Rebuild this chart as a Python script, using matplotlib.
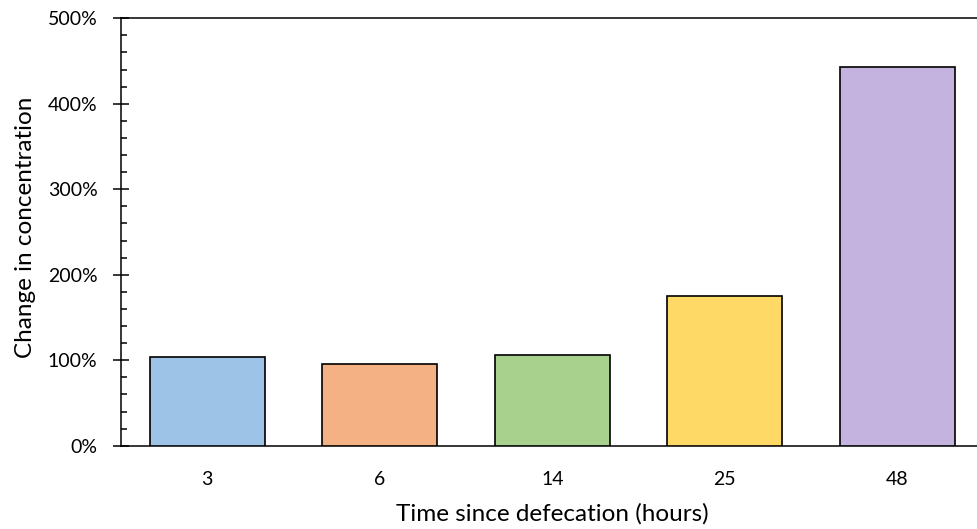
import matplotlib
matplotlib.use("Agg")
import matplotlib.pyplot as plt
from matplotlib.ticker import MultipleLocator, PercentFormatter

categories = ["3", "6", "14", "25", "48"]
values = [104, 96, 106, 175, 443]
colors = ["#9DC3E6", "#F4B183", "#A9D18E", "#FFD966", "#C3B3DE"]
yticks = [0, 100, 200, 300, 400, 500]

plt.rcParams['font.family'] = ['Lato', 'DejaVu Sans']

W, H = 977, 529
fig = plt.figure(figsize=(W / 100, H / 100), dpi=100)
left, right = 121 / W, 983.5 / W
bottom, top = (H - 445.7) / H, (H - 18.3) / H
ax = fig.add_axes([left, bottom, right - left, top - bottom])

x = list(range(len(categories)))
ax.bar(x, values, width=0.667, color=colors, edgecolor="black", linewidth=1.2, zorder=3)

ax.set_xlim(-0.5, len(categories) - 0.5)
ax.set_ylim(0, 500)
ax.set_yticks(yticks)
ax.yaxis.set_major_formatter(PercentFormatter(decimals=0))
ax.yaxis.set_minor_locator(MultipleLocator(20))
ax.set_xticks(x)
ax.set_xticklabels(categories)

ax.tick_params(axis='y', which='major', direction='inout', length=12, width=1.1, labelsize=14, pad=11)
ax.tick_params(axis='y', which='minor', direction='in', length=4.5, width=1.1)
ax.tick_params(axis='x', which='both', length=0, labelsize=14, pad=18)

for s in ['left', 'bottom', 'top', 'right']:
    ax.spines[s].set_linewidth(1.1)
    ax.spines[s].set_color('black')

ax.set_ylabel("Change in concentration", fontsize=17.5)
ax.yaxis.set_label_coords(-0.099, 0.512)
ax.set_xlabel("Time since defecation (hours)", fontsize=17.5, labelpad=11)

fig.savefig("out.png", dpi=100)
